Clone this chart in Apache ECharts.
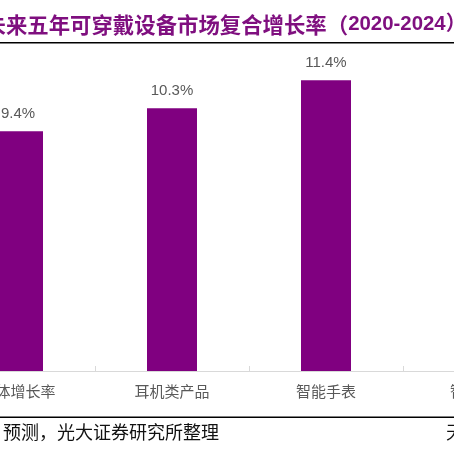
<!DOCTYPE html>
<html>
<head>
<meta charset="utf-8">
<script src="https://cdn.jsdelivr.net/npm/echarts@6/dist/echarts.min.js"></script>
<style>
html,body{margin:0;padding:0;background:#fff;}
#c{width:454px;height:454px;}
</style>
</head>
<body>
<div id="c"></div>
<script>
var titleMain = '未来五年可穿戴设备市场复合增长率（';
var titleYears = '2020-2024）';
var sourceText = '预测，光大证券研究所整理';
var categories = ['总体增长率', '耳机类产品', '智能手表', '智能手环'];
var values = [9.4, 10.3, 11.4, 9.0];

var chart = echarts.init(document.getElementById('c'), null, {renderer: 'canvas'});
chart.setOption({
  backgroundColor: '#ffffff',
  animation: false,
  grid: {left: -59, width: 616, top: 65, height: 306, containLabel: false, outerBoundsMode: 'none'},
  xAxis: {
    type: 'category',
    data: categories,
    axisLine: {show: true, lineStyle: {color: '#d9d9d9', width: 1}},
    axisTick: {show: true, inside: true, length: 5, lineStyle: {color: '#d9d9d9'}},
    axisLabel: {color: '#595959', fontSize: 15, margin: 13, fontFamily: 'Noto Sans CJK SC', interval: 0, hideOverlap: false}
  },
  yAxis: {
    type: 'value', min: 0, max: 12, show: false,
    splitLine: {show: false}
  },
  series: [{
    type: 'bar',
    data: values,
    barWidth: 50,
    itemStyle: {color: '#800080'},
    label: {
      show: true, position: 'top', distance: 10,
      color: '#595959', fontSize: 15, fontFamily: 'Arial, Liberation Sans, sans-serif',
      formatter: function (p) { return p.value.toFixed(1) + '%'; }
    }
  }],
  graphic: [
    {type: 'text', left: -15.5, top: 14, style: {
      text: '{a|' + titleMain + '}{b|' + titleYears + '}',
      rich: {
        a: {fill: '#7f0f7f', fontSize: 21.4, fontWeight: 'bold', fontFamily: '"Noto Sans CJK SC", sans-serif'},
        b: {fill: '#7f0f7f', fontSize: 20.4, fontWeight: 'bold', fontFamily: 'Arial, "Liberation Sans", "Noto Sans CJK SC", sans-serif'}
      }
    }},
    {type: 'rect', shape: {x: 0, y: 42, width: 454, height: 1.5}, style: {fill: '#000'}},
    {type: 'rect', shape: {x: 0, y: 416.5, width: 454, height: 1.5}, style: {fill: '#000'}},
    {type: 'text', left: 3, top: 423, style: {text: sourceText, fill: '#111', font: '18px "Noto Sans CJK SC", sans-serif'}},
    {type: 'text', left: 446, top: 423, style: {text: '天', fill: '#111', font: '18px "Noto Sans CJK SC", sans-serif'}}
  ]
});
</script>
</body>
</html>
